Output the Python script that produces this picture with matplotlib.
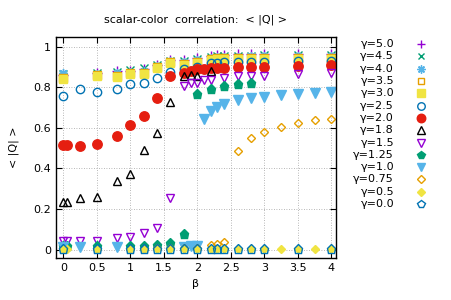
import matplotlib
matplotlib.use("Agg")
import matplotlib.pyplot as plt
from matplotlib.ticker import FormatStrFormatter, MultipleLocator

# =========================
# Data
# =========================
beta_top = [0, 0.5, 0.8, 1.0, 1.2, 1.4, 1.6, 1.8, 2.0, 2.2, 2.3, 2.4, 2.6, 2.8, 3.0, 3.5, 4.0]
q_g50 = [0.86, 0.87, 0.88, 0.88, 0.89, 0.91, 0.935, 0.935, 0.945, 0.955, 0.96, 0.96, 0.965, 0.965, 0.965, 0.965, 0.965]
q_g45 = [0.865, 0.87, 0.875, 0.885, 0.895, 0.91, 0.93, 0.93, 0.94, 0.95, 0.955, 0.955, 0.955, 0.955, 0.96, 0.96, 0.96]
q_g40 = [0.87, 0.865, 0.87, 0.875, 0.88, 0.905, 0.93, 0.925, 0.935, 0.945, 0.95, 0.95, 0.95, 0.955, 0.955, 0.955, 0.955]
q_g35 = [0.845, 0.86, 0.855, 0.87, 0.87, 0.9, 0.925, 0.915, 0.925, 0.94, 0.945, 0.945, 0.945, 0.945, 0.945, 0.945, 0.945]
q_g30 = [0.84, 0.855, 0.85, 0.864, 0.864, 0.897, 0.92, 0.91, 0.92, 0.935, 0.94, 0.94, 0.94, 0.94, 0.94, 0.94, 0.94]

beta_g25 = [0, 0.25, 0.5, 0.8, 1.0, 1.2, 1.4, 1.6, 1.8, 2.0, 2.2, 2.3, 2.4, 2.6, 2.8, 3.0, 3.5, 4.0]
q_g25 = [0.756, 0.79, 0.778, 0.79, 0.818, 0.823, 0.848, 0.875, 0.89, 0.9, 0.92, 0.92, 0.925, 0.925, 0.925, 0.925, 0.93, 0.93]

beta_g20 = [0, 0.05, 0.25, 0.5, 0.8, 1.0, 1.2, 1.4, 1.6, 1.8, 1.9, 2.0, 2.1, 2.2, 2.3, 2.4, 2.6, 2.8, 3.0, 3.5, 4.0]
q_g20 = [0.517, 0.514, 0.512, 0.522, 0.562, 0.613, 0.661, 0.747, 0.855, 0.872, 0.88, 0.888, 0.888, 0.893,
         0.897, 0.897, 0.9, 0.9, 0.9, 0.905, 0.908]

beta_g18 = [0, 0.05, 0.25, 0.5, 0.8, 1.0, 1.2, 1.4, 1.6, 1.8, 1.9, 2.0, 2.2]
q_g18 = [0.237, 0.237, 0.253, 0.261, 0.336, 0.372, 0.489, 0.575, 0.726, 0.855, 0.86, 0.855, 0.88]

beta_g15 = [0, 0.05, 0.25, 0.5, 0.8, 1.0, 1.2, 1.4, 1.6, 1.8, 1.9, 2.0, 2.1, 2.2, 2.4, 2.6, 2.8, 3.0, 3.5, 4.0]
q_g15 = [0.044, 0.044, 0.04, 0.044, 0.055, 0.06, 0.08, 0.107, 0.253, 0.806, 0.82, 0.82, 0.836, 0.836,
         0.848, 0.855, 0.855, 0.855, 0.864, 0.869]

beta_g125 = [0, 0.05, 0.5, 1.0, 1.2, 1.4, 1.6, 1.8, 2.0, 2.2, 2.4, 2.6, 2.8]
q_g125 = [0.02, 0.02, 0.016, 0.016, 0.02, 0.024, 0.032, 0.078, 0.765, 0.792, 0.808, 0.818, 0.82]

beta_g10 = [0, 0.25, 0.8, 1.8, 1.9, 2.0, 2.1, 2.2, 2.3, 2.4, 2.6, 2.8, 3.0, 3.25, 3.5, 3.75, 4.0]
q_g10 = [0.015, 0.015, 0.015, 0.012, 0.018, 0.02, 0.645, 0.682, 0.704, 0.72, 0.737, 0.748, 0.751,
         0.761, 0.768, 0.773, 0.778]

beta_g075 = [0, 0.5, 1.0, 1.2, 1.4, 1.6, 1.8, 2.0, 2.2, 2.3, 2.4, 2.6, 2.8, 3.0, 3.25, 3.5, 3.75, 4.0]
q_g075 = [0.005, 0.005, 0.005, 0.005, 0.006, 0.006, 0.008, 0.01, 0.022, 0.027, 0.038, 0.485, 0.55,
          0.578, 0.605, 0.625, 0.638, 0.646]

beta_g05 = [0, 0.05, 0.5, 1.0, 1.2, 1.4, 1.6, 1.8, 2.0, 2.2, 2.3, 2.4, 2.6, 2.8, 3.0, 3.25, 3.5, 3.75, 4.0]
q_g05 = [0.004, 0.004, 0.004, 0.004, 0.004, 0.004, 0.004, 0.004, 0.004, 0.004, 0.004, 0.004, 0.004,
         0.004, 0.004, 0.004, 0.004, 0.004, 0.004]

beta_g00 = [0, 0.5, 1.0, 1.2, 1.4, 1.6, 1.8, 2.0, 2.2, 2.3, 2.4, 2.6, 2.8, 3.0, 3.5, 4.0]
q_g00 = [0.003, 0.003, 0.003, 0.003, 0.003, 0.003, 0.003, 0.003, 0.003, 0.003, 0.003, 0.003, 0.003,
         0.003, 0.003, 0.003]

labels = ["γ=5.0", "γ=4.5", "γ=4.0", "γ=3.5", "γ=3.0", "γ=2.5", "γ=2.0",
          "γ=1.8", "γ=1.5", "γ=1.25", "γ=1.0", "γ=0.75", "γ=0.5", "γ=0.0"]

# =========================
# Styles (gnuplot-like)
# =========================
PURPLE = "#9400d3"
GREEN  = "#009e73"
SKY    = "#56b4e9"
ORANGE = "#e69f00"
YELLOW = "#f0e442"
BLUE   = "#0072b2"
RED    = "#e51e10"
BLACK  = "#000000"

# (x, y, marker, color, filled, size)
series = [
    (beta_top,  q_g50,  "+",         PURPLE, False, 6.5),
    (beta_top,  q_g45,  "x",         GREEN,  False, 5.5),
    (beta_top,  q_g40,  (8, 2, 0),   SKY,    False, 6.5),
    (beta_top,  q_g35,  "s",         ORANGE, False, 5.5),
    (beta_top,  q_g30,  "s",         YELLOW, True,  5.8),
    (beta_g25,  q_g25,  "o",         BLUE,   False, 6),
    (beta_g20,  q_g20,  "o",         RED,    True,  6.8),
    (beta_g18,  q_g18,  "^",         BLACK,  False, 6),
    (beta_g15,  q_g15,  "v",         PURPLE, False, 6),
    (beta_g125, q_g125, "p",         GREEN,  True,  6.5),
    (beta_g10,  q_g10,  "v",         SKY,    True,  6.5),
    (beta_g075, q_g075, "D",         ORANGE, False, 4.5),
    (beta_g05,  q_g05,  "D",         YELLOW, True,  4.5),
    (beta_g00,  q_g00,  "p",         BLUE,   False, 6.5),
]

plt.rcParams["font.family"] = ["DejaVu Sans"]
fig = plt.figure(figsize=(4.51, 3.0), dpi=100)
ax = fig.add_axes([0.124, 0.139, 0.621, 0.739])

for (xs, ys, mk, col, filled, ms) in series:
    ax.plot(xs, ys, linestyle="none", marker=mk, markersize=ms,
            markeredgecolor=col,
            markerfacecolor=col if filled else "none",
            markeredgewidth=1.0)

ax.set_xlim(-0.11, 4.07)
ax.set_ylim(-0.043, 1.05)
ax.xaxis.set_major_locator(MultipleLocator(0.5))
ax.yaxis.set_major_locator(MultipleLocator(0.2))
ax.xaxis.set_major_formatter(FormatStrFormatter("%g"))
ax.yaxis.set_major_formatter(FormatStrFormatter("%g"))
ax.tick_params(direction="in", top=True, right=True, labelsize=8, length=4, width=0.8)
ax.grid(True, color="#a0a0a0", linestyle=(0, (1, 2)), linewidth=0.6)
for sp in ax.spines.values():
    sp.set_linewidth(1.0)

ax.set_xlabel("β", fontsize=8)
ax.set_ylabel("< |Q| >", fontsize=8, labelpad=10)
ax.set_title("scalar-color  correlation:  < |Q| >", fontsize=8, pad=10)

# ── Legend (gnuplot style: right-aligned label, then marker) ──
leg_ax = fig.add_axes([0.80, 0.2995, 0.18, 0.574])
leg_ax.set_axis_off()
leg_ax.set_xlim(0, 1)
leg_ax.set_ylim(len(labels) - 0.5, -0.5)
for i, ((xs, ys, mk, col, filled, ms), lab) in enumerate(zip(series, labels)):
    leg_ax.plot([0.74], [i], linestyle="none", marker=mk, markersize=ms * 0.9,
                markeredgecolor=col, markerfacecolor=col if filled else "none",
                markeredgewidth=1.0, clip_on=False)
    leg_ax.text(0.41, i, lab, ha="right", va="center", fontsize=8)

fig.savefig("out.png", dpi=100)
